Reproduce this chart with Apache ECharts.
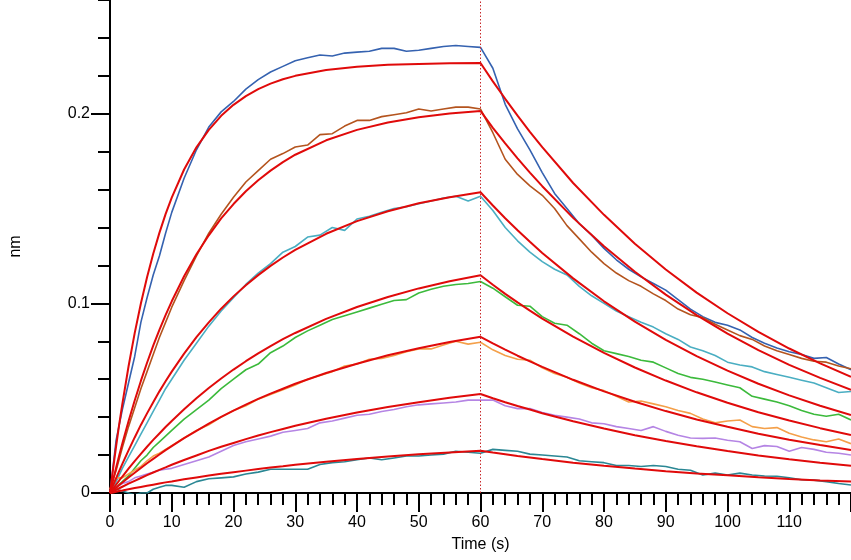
<!DOCTYPE html>
<html>
<head>
<meta charset="utf-8">
<script src="https://cdn.jsdelivr.net/npm/echarts@6/dist/echarts.min.js"></script>
<style>
  html, body { margin: 0; padding: 0; background: #fff; }
  #chart { width: 851px; height: 560px; }
</style>
</head>
<body>
<div id="chart"></div>
<script>
// measured traces (sampled every 1 s up to 10 s, then every 2 s)
var tData = [0, 1, 2, 3, 4, 5, 6, 7, 8, 9, 10,
  12, 14, 16, 18, 20, 22, 24, 26, 28, 30, 32, 34, 36, 38, 40, 42, 44, 46, 48, 50, 52, 54, 56, 58, 60,
  62, 64, 66, 68, 70, 72, 74, 76, 78, 80, 82, 84, 86, 88, 90, 92, 94, 96, 98, 100, 102, 104, 106, 108, 110, 112, 114, 116, 118, 120];

var blueData = [0, 0.028, 0.044, 0.058, 0.072, 0.090, 0.103, 0.115, 0.125, 0.137, 0.148,
  0.166, 0.181, 0.193, 0.201, 0.2065, 0.213, 0.218, 0.222, 0.225, 0.228, 0.2295, 0.231, 0.2305, 0.232, 0.2325, 0.233, 0.2345, 0.2345, 0.233, 0.2335, 0.2345, 0.2355, 0.236, 0.2355, 0.235,
  0.224, 0.205, 0.192, 0.181, 0.169, 0.158, 0.150, 0.142, 0.136, 0.129, 0.123, 0.118, 0.114, 0.1105, 0.107, 0.102, 0.097, 0.093, 0.090, 0.0885, 0.086, 0.082, 0.079, 0.0765, 0.0745, 0.073, 0.071, 0.0715, 0.068, 0.065];

var brownData = [0.002, 0.012, 0.024, 0.035, 0.045, 0.055, 0.064, 0.073, 0.082, 0.090, 0.098,
  0.112, 0.125, 0.137, 0.147, 0.156, 0.164, 0.170, 0.176, 0.179, 0.1825, 0.1835, 0.189, 0.1895, 0.1935, 0.1965, 0.1965, 0.1985, 0.1995, 0.2005, 0.2025, 0.2015, 0.2025, 0.2035, 0.2035, 0.2025,
  0.190, 0.176, 0.168, 0.162, 0.157, 0.150, 0.141, 0.134, 0.127, 0.121, 0.116, 0.112, 0.109, 0.105, 0.1015, 0.097, 0.094, 0.0925, 0.089, 0.086, 0.083, 0.081, 0.0775, 0.075, 0.073, 0.071, 0.0695, 0.069, 0.067, 0.0655];

var tealData = [0, 0.006, 0.013, 0.019, 0.025, 0.031, 0.037, 0.043, 0.049, 0.055, 0.060,
  0.070, 0.079, 0.088, 0.096, 0.103, 0.110, 0.116, 0.121, 0.127, 0.130, 0.135, 0.136, 0.140, 0.1385, 0.1445, 0.146, 0.148, 0.150, 0.151, 0.1525, 0.154, 0.1555, 0.1565, 0.154, 0.1565,
  0.149, 0.140, 0.133, 0.127, 0.122, 0.118, 0.115, 0.109, 0.104, 0.100, 0.096, 0.093, 0.090, 0.0875, 0.084, 0.081, 0.077, 0.075, 0.0725, 0.069, 0.0675, 0.0665, 0.064, 0.0625, 0.061, 0.0595, 0.058, 0.0555, 0.053, 0.0535];

var greenData = [0, 0.003, 0.006, 0.009, 0.013, 0.017, 0.020, 0.024, 0.027, 0.030, 0.033,
  0.039, 0.044, 0.049, 0.055, 0.060, 0.065, 0.068, 0.074, 0.0775, 0.082, 0.0855, 0.0885, 0.0915, 0.0935, 0.0955, 0.0975, 0.0995, 0.1015, 0.102, 0.1055, 0.1075, 0.109, 0.110, 0.1105, 0.1115,
  0.108, 0.1035, 0.099, 0.0985, 0.093, 0.0895, 0.0885, 0.084, 0.079, 0.075, 0.0735, 0.072, 0.070, 0.069, 0.066, 0.063, 0.061, 0.060, 0.0585, 0.057, 0.0555, 0.051, 0.0495, 0.048, 0.046, 0.0435, 0.0415, 0.0405, 0.0415, 0.0385];

var orangeData = [0.002, 0.008, 0.008, 0.010, 0.012, 0.014, 0.017, 0.0195, 0.021, 0.023, 0.025,
  0.029, 0.033, 0.036, 0.040, 0.0435, 0.046, 0.0495, 0.052, 0.0545, 0.057, 0.060, 0.062, 0.064, 0.067, 0.068, 0.0705, 0.071, 0.0725, 0.0745, 0.076, 0.076, 0.078, 0.080, 0.0785, 0.0795,
  0.0755, 0.0725, 0.0705, 0.070, 0.066, 0.063, 0.061, 0.058, 0.0555, 0.054, 0.051, 0.048, 0.0485, 0.047, 0.0455, 0.0435, 0.042, 0.039, 0.037, 0.038, 0.0385, 0.035, 0.034, 0.0345, 0.0315, 0.0295, 0.028, 0.027, 0.0285, 0.026];

var purpleData = [0, 0.003, 0.005, 0.006, 0.008, 0.009, 0.010, 0.011, 0.012, 0.0125, 0.013,
  0.015, 0.017, 0.019, 0.022, 0.025, 0.027, 0.0285, 0.030, 0.032, 0.033, 0.034, 0.037, 0.038, 0.0395, 0.041, 0.0415, 0.043, 0.044, 0.0455, 0.0465, 0.047, 0.0475, 0.048, 0.049, 0.049,
  0.049, 0.046, 0.0445, 0.0445, 0.0425, 0.041, 0.040, 0.039, 0.037, 0.0365, 0.035, 0.034, 0.033, 0.035, 0.0325, 0.0305, 0.029, 0.0288, 0.029, 0.0278, 0.027, 0.0235, 0.025, 0.0245, 0.022, 0.024, 0.023, 0.0215, 0.021, 0.020];

var darkTealData = [0, 0.002, 0.001, 0.000, -0.001, 0.000, 0.000, 0.002, 0.003, 0.004, 0.004,
  0.003, 0.006, 0.0075, 0.008, 0.0085, 0.010, 0.011, 0.0125, 0.0125, 0.0125, 0.0125, 0.015, 0.016, 0.0165, 0.0175, 0.0185, 0.0175, 0.0185, 0.0195, 0.0195, 0.020, 0.0205, 0.022, 0.0215, 0.021,
  0.023, 0.0225, 0.022, 0.0205, 0.020, 0.0195, 0.019, 0.017, 0.0165, 0.016, 0.0145, 0.0145, 0.014, 0.0145, 0.014, 0.0125, 0.012, 0.0095, 0.0105, 0.0095, 0.0105, 0.0095, 0.009, 0.0088, 0.008, 0.007, 0.0068, 0.006, 0.005, 0.0042];

// fitted curves
var tFit = [0, 0.5, 1, 1.5, 2, 3, 4, 5, 6, 7, 8, 9, 10, 12, 14, 16, 18, 20, 22, 24, 26, 28, 30, 35, 40, 45, 50, 55, 60,
  62, 64, 66, 68, 70, 75, 80, 85, 90, 95, 100, 105, 110, 115, 120];

var fit1 = [0, 0.0127, 0.0249, 0.0364, 0.047, 0.0667, 0.0843, 0.0999, 0.1138, 0.1262, 0.1372, 0.1471, 0.1558, 0.1706, 0.1823, 0.1915, 0.1989, 0.2047, 0.2093, 0.213, 0.2159, 0.2182, 0.22, 0.2231, 0.2248, 0.2258, 0.2263, 0.2266, 0.2268,
  0.2171, 0.2079, 0.1990, 0.1905, 0.1824, 0.1635, 0.1467, 0.1315, 0.1179, 0.1057, 0.0948, 0.0850, 0.0762, 0.0684, 0.0613];
var fit2 = [0, 0.0068, 0.0135, 0.0199, 0.0261, 0.0378, 0.0488, 0.0591, 0.0687, 0.0777, 0.0860, 0.0938, 0.1011, 0.1143, 0.1259, 0.1359, 0.1448, 0.1524, 0.1591, 0.1649, 0.1700, 0.1745, 0.1784, 0.1860, 0.1915, 0.1954, 0.1982, 0.2001, 0.2015,
  0.1926, 0.1844, 0.1765, 0.1690, 0.1618, 0.1451, 0.1301, 0.1167, 0.1046, 0.0938, 0.0841, 0.0754, 0.0676, 0.0607, 0.0544];
var fit3 = [0, 0.0040, 0.0079, 0.0117, 0.0154, 0.0225, 0.0293, 0.0359, 0.0420, 0.0479, 0.0536, 0.0589, 0.0640, 0.0735, 0.0822, 0.0900, 0.0972, 0.1037, 0.1096, 0.1149, 0.1198, 0.1242, 0.1282, 0.1367, 0.1434, 0.1486, 0.1528, 0.1560, 0.1586,
  0.1516, 0.1449, 0.1386, 0.1325, 0.1266, 0.1132, 0.1011, 0.0904, 0.0808, 0.0722, 0.0645, 0.0576, 0.0515, 0.0460, 0.0411];
var fit4 = [0, 0.0022, 0.0044, 0.0066, 0.0087, 0.0128, 0.0168, 0.0206, 0.0244, 0.0280, 0.0314, 0.0348, 0.0380, 0.0442, 0.0500, 0.0554, 0.0604, 0.0651, 0.0695, 0.0736, 0.0775, 0.0811, 0.0844, 0.0918, 0.0981, 0.1034, 0.1079, 0.1117, 0.1148,
  0.1098, 0.1050, 0.1005, 0.0962, 0.0920, 0.0825, 0.0739, 0.0662, 0.0593, 0.0531, 0.0476, 0.0426, 0.0382, 0.0342, 0.0306];
var fit5 = [0, 0.0014, 0.0028, 0.0042, 0.0055, 0.0082, 0.0107, 0.0132, 0.0157, 0.0180, 0.0203, 0.0226, 0.0247, 0.0289, 0.0328, 0.0366, 0.0401, 0.0434, 0.0466, 0.0496, 0.0524, 0.0550, 0.0576, 0.0633, 0.0682, 0.0726, 0.0763, 0.0796, 0.0824,
  0.0789, 0.0756, 0.0724, 0.0694, 0.0665, 0.0597, 0.0536, 0.0481, 0.0432, 0.0388, 0.0349, 0.0313, 0.0281, 0.0253, 0.0227];
var fit6 = [0, 0.0008, 0.0017, 0.0025, 0.0033, 0.0049, 0.0064, 0.0079, 0.0094, 0.0108, 0.0122, 0.0135, 0.0149, 0.0174, 0.0198, 0.0222, 0.0244, 0.0264, 0.0284, 0.0303, 0.0321, 0.0338, 0.0355, 0.0392, 0.0425, 0.0454, 0.0479, 0.0502, 0.0522,
  0.0500, 0.0479, 0.0459, 0.0440, 0.0421, 0.0378, 0.0340, 0.0305, 0.0274, 0.0246, 0.0221, 0.0198, 0.0178, 0.0160, 0.0144];
var fit7 = [0, 0.0003, 0.0007, 0.0010, 0.0013, 0.0020, 0.0026, 0.0032, 0.0038, 0.0044, 0.0050, 0.0056, 0.0061, 0.0072, 0.0082, 0.0092, 0.0101, 0.0110, 0.0118, 0.0126, 0.0134, 0.0141, 0.0149, 0.0165, 0.0179, 0.0192, 0.0204, 0.0214, 0.0223,
  0.0213, 0.0204, 0.0195, 0.0187, 0.0179, 0.0160, 0.0144, 0.0129, 0.0115, 0.0103, 0.0093, 0.0083, 0.0074, 0.0066, 0.0060];

var yMajorTicks = [0, 0.1, 0.2];

var chart = echarts.init(document.getElementById('chart'));

function pairs(ts, vs) {
  return ts.map(function (t, i) { return [t, vs[i]]; });
}

// 测量曲线
var traces = [
  [blueData, '#3562b0'],
  [brownData, '#b4541e'],
  [tealData, '#4aaec2'],
  [greenData, '#3cba3c'],
  [orangeData, '#f4a04a'],
  [purpleData, '#b585e4'],
  [darkTealData, '#2a8794']
];
// 拟合曲线
var fits = [fit1, fit2, fit3, fit4, fit5, fit6, fit7];

var series = [];
traces.forEach(function (tr) {
  series.push({
    type: 'line',
    data: pairs(tData, tr[0]),
    showSymbol: false,
    lineStyle: { color: tr[1], width: 1.6 },
    silent: true,
    z: 2
  });
});
fits.forEach(function (f, i) {
  var s = {
    type: 'line',
    data: pairs(tFit, f),
    showSymbol: false,
    lineStyle: { color: '#e00a0a', width: 2 },
    silent: true,
    z: 3
  };
  if (i === 0) {
    // 解离起点的虚线
    s.markLine = {
      silent: true,
      symbol: 'none',
      label: { show: false },
      lineStyle: { color: '#c8282a', width: 1, type: [1.5, 2] },
      data: [{ xAxis: 60 }]
    };
  }
  series.push(s);
});

var font = 'Liberation Sans, Arial, sans-serif';

var option = {
  animation: false,
  backgroundColor: '#fff',
  grid: { left: 106, top: 0, width: 745, height: 493 },
  xAxis: {
    type: 'value',
    min: 0,
    max: 120,
    interval: 10,
    name: 'Time (s)',
    nameLocation: 'middle',
    nameGap: 44,
    nameTextStyle: { color: '#000', fontSize: 16, fontFamily: font },
    axisLine: { show: true, lineStyle: { color: '#000', width: 2 } },
    axisTick: { show: true, length: 19, lineStyle: { color: '#000', width: 2 } },
    minorTick: { show: true, splitNumber: 5, length: 12, lineStyle: { color: '#000', width: 2 } },
    axisLabel: { color: '#000', fontSize: 16, fontFamily: font, margin: 22, showMaxLabel: false },
    splitLine: { show: false },
    minorSplitLine: { show: false }
  },
  yAxis: [
    {
      type: 'value',
      min: 0,
      max: 0.26,
      interval: 0.02,
      position: 'left',
      axisLine: { show: true, onZero: false, lineStyle: { color: '#000', width: 2 } },
      axisTick: { show: true, length: 12, lineStyle: { color: '#000', width: 2 } },
      axisLabel: { show: false },
      splitLine: { show: false }
    },
    {
      type: 'value',
      min: 0,
      max: 0.26,
      interval: 0.1,
      position: 'left',
      name: 'nm',
      nameLocation: 'middle',
      nameGap: 86,
      nameTextStyle: { color: '#000', fontSize: 16, fontFamily: font },
      axisLine: { show: false },
      axisTick: { show: true, length: 19, customValues: yMajorTicks, lineStyle: { color: '#000', width: 2 } },
      axisLabel: { color: '#000', fontSize: 16, fontFamily: font, margin: 20, customValues: yMajorTicks },
      splitLine: { show: false }
    }
  ],
  series: series
};

chart.setOption(option);
</script>
</body>
</html>
